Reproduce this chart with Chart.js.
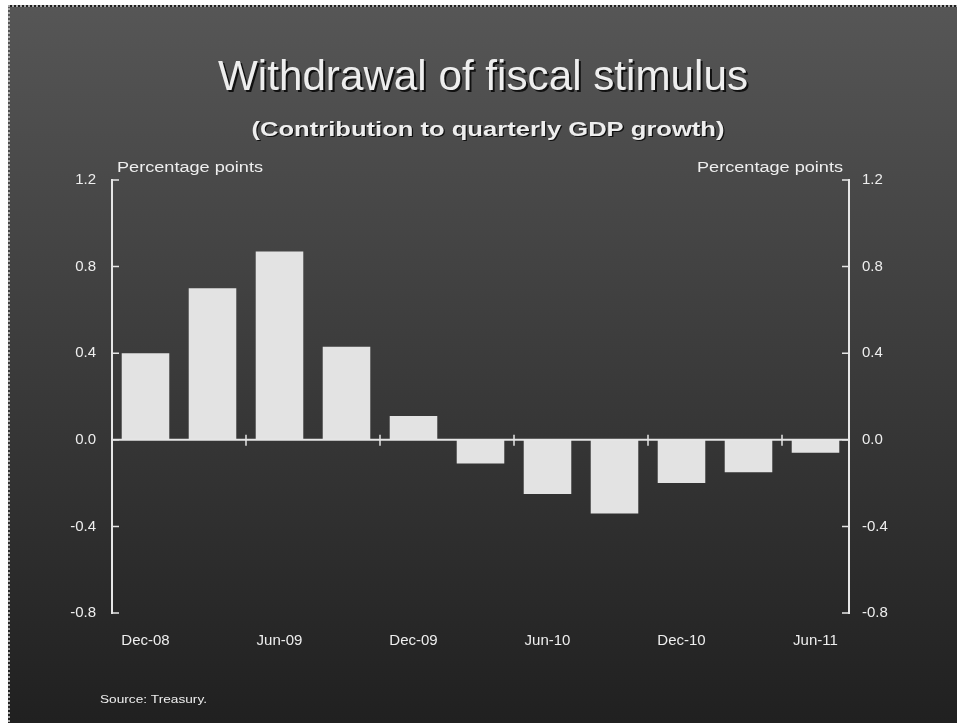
<!DOCTYPE html>
<html>
<head>
<meta charset="utf-8">
<title>Withdrawal of fiscal stimulus</title>
<script src="https://cdn.jsdelivr.net/npm/chart.js@4.4.1/dist/chart.umd.min.js"></script>
<style>
  html, body { margin: 0; padding: 0; background: #ffffff; overflow: hidden; }
  #panel {
    position: absolute; left: 8px; top: 5px; width: 960px; height: 730px;
    border-left: 2px dotted #a8a8a8; border-top: 2px dotted #a8a8a8;
    background: linear-gradient(#565656, #1f1f1f);
  }
  #chart { position: absolute; left: 0; top: 0; }
</style>
</head>
<body>
<div id="panel"></div>
<canvas id="chart" width="957" height="723"></canvas>
<script>
// quarterly contribution of fiscal stimulus to GDP growth, percentage points
const quarters = ["Dec-08", "Mar-09", "Jun-09", "Sep-09", "Dec-09", "Mar-10",
  "Jun-10", "Sep-10", "Dec-10", "Mar-11", "Jun-11"];
const contribution = [0.40, 0.70, 0.87, 0.43, 0.11, -0.11, -0.25, -0.34, -0.20, -0.15, -0.06];
const yTicks = [-0.8, -0.4, 0.0, 0.4, 0.8, 1.2];

const titleText = "Withdrawal of fiscal stimulus";
const subtitleText = "(Contribution to quarterly GDP growth)";
const unitText = "Percentage points";
const sourceText = "Source: Treasury.";

const lineColour = "#e6e6e6";
const textColour = "#eeeeee";
const narrow = '"Liberation Sans Narrow", "Liberation Sans"';

// draws text squeezed/stretched to a given width, optional drop shadow
function drawText(ctx, text, x, y, font, align, width, shadow) {
  ctx.save();
  ctx.font = font;
  ctx.textAlign = align;
  ctx.textBaseline = "alphabetic";
  const w = ctx.measureText(text).width;
  ctx.translate(x, y);
  if (width) ctx.scale(width / w, 1);
  if (shadow) {
    ctx.fillStyle = "#111111";
    ctx.fillText(text, shadow, shadow);
  }
  ctx.fillStyle = textColour;
  ctx.fillText(text, 0, 0);
  ctx.restore();
}

const decorPlugin = {
  id: "decor",
  afterDatasetsDraw(chart) {
    const ctx = chart.ctx;
    const x = chart.scales.x;
    const y = chart.scales.y;
    const area = chart.chartArea;
    const zero = y.getPixelForValue(0);
    ctx.save();
    ctx.strokeStyle = lineColour;
    ctx.lineWidth = 2;
    // zero line
    ctx.beginPath();
    ctx.moveTo(area.left, zero);
    ctx.lineTo(area.right, zero);
    ctx.stroke();
    // tick marks between every second quarter
    ctx.lineWidth = 1.5;
    for (let i = 1; i < quarters.length - 1; i += 2) {
      const px = (x.getPixelForValue(i) + x.getPixelForValue(i + 1)) / 2;
      ctx.beginPath();
      ctx.moveTo(px, zero - 5);
      ctx.lineTo(px, zero + 6);
      ctx.stroke();
    }
    // inward ticks on both value axes
    yTicks.forEach((v) => {
      const py = y.getPixelForValue(v);
      ctx.beginPath();
      ctx.moveTo(area.left, py);
      ctx.lineTo(area.left + 7, py);
      ctx.moveTo(area.right, py);
      ctx.lineTo(area.right - 7, py);
      ctx.stroke();
    });
    ctx.restore();
  },
  afterDraw(chart) {
    const ctx = chart.ctx;
    drawText(ctx, titleText, 483, 90, "42px " + narrow, "center", 530, 2);
    drawText(ctx, subtitleText, 488, 136, "bold 20px " + narrow, "center", 473, 1);
    drawText(ctx, unitText, 117, 172, "14px " + narrow, "left", 146, 0);
    drawText(ctx, unitText, 843, 172, "14px " + narrow, "right", 146, 0);
    drawText(ctx, sourceText, 100, 703, "11px " + narrow, "left", 107, 0);
  },
};

const valueAxis = (position, width, padding) => ({
  type: "linear",
  position: position,
  min: -0.8,
  max: 1.2,
  afterBuildTicks: (scale) => {
    scale.ticks = yTicks.map((v) => ({ value: v }));
  },
  afterFit: (scale) => {
    scale.width = width;
  },
  grid: { display: false, drawTicks: false },
  border: { display: true, color: lineColour, width: 2 },
  ticks: {
    color: textColour,
    padding: padding,
    font: { family: "Liberation Sans", size: 15 },
    callback: (v) => Number(v).toFixed(1),
  },
});

new Chart(document.getElementById("chart"), {
  type: "bar",
  data: {
    labels: quarters,
    datasets: [
      {
        data: contribution,
        backgroundColor: "#e3e3e3",
        borderWidth: 0,
        barPercentage: 0.71,
        categoryPercentage: 1.0,
      },
    ],
  },
  options: {
    responsive: false,
    animation: false,
    events: [],
    layout: { padding: { top: 180, left: 0, right: 0, bottom: 0 } },
    plugins: {
      legend: { display: false },
      tooltip: { enabled: false },
    },
    scales: {
      x: {
        grid: { display: false, drawTicks: false },
        border: { display: false },
        afterFit: (scale) => {
          scale.height = 110;
        },
        ticks: {
          color: textColour,
          padding: 19,
          autoSkip: false,
          maxRotation: 0,
          font: { family: "Liberation Sans", size: 15 },
          callback: (v, i) => (i % 2 === 0 ? quarters[i] : ""),
        },
      },
      y: valueAxis("left", 112, 16),
      y2: valueAxis("right", 108, 13),
    },
  },
  plugins: [decorPlugin],
});
</script>
</body>
</html>
